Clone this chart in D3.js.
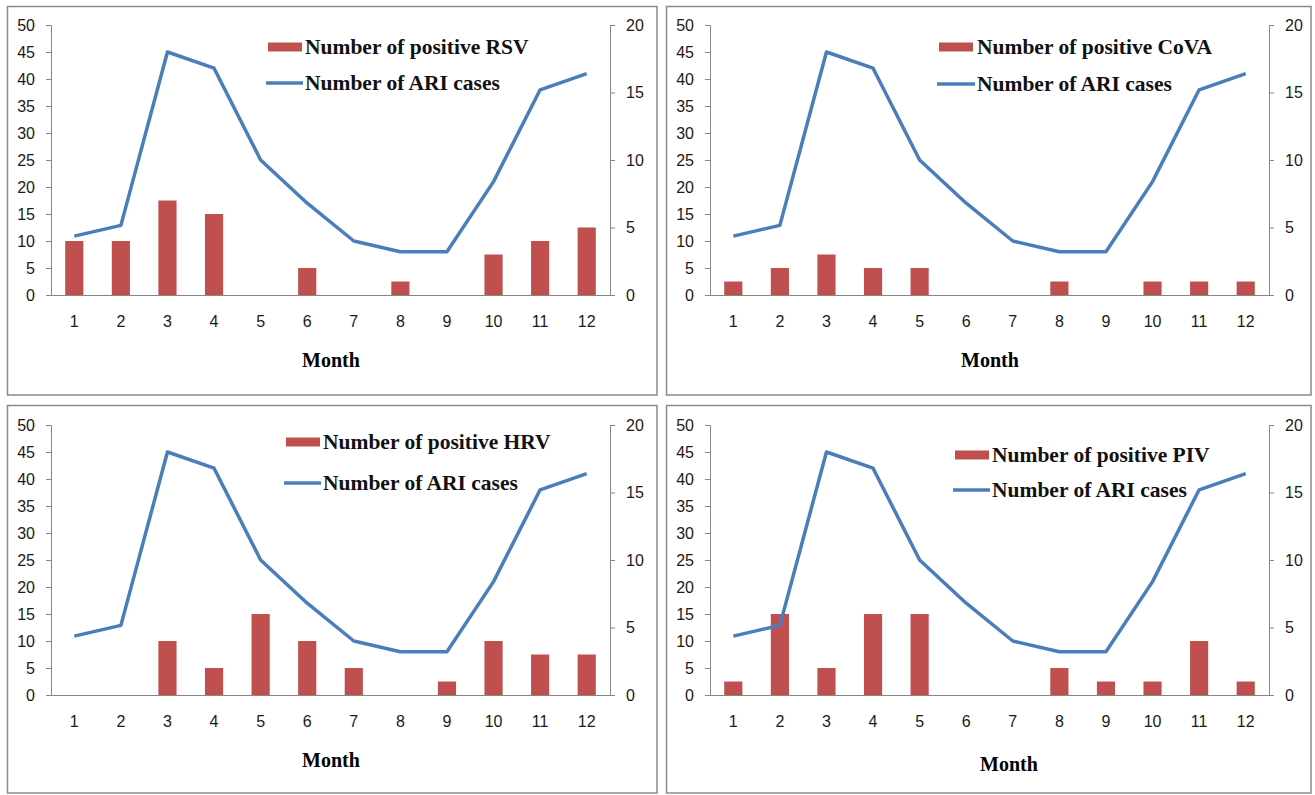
<!DOCTYPE html>
<html><head><meta charset="utf-8">
<script src="https://cdn.jsdelivr.net/npm/d3@7"></script>
<style>body{margin:0;background:#fff} svg{display:block}</style>
</head><body>
<svg id="chart" width="1315" height="795"></svg>
<script>
// ---- data ----
const months = ["1","2","3","4","5","6","7","8","9","10","11","12"];
const ariCases = [10.9, 12.9, 45, 42, 25, 17, 10, 8, 8, 21, 38, 41];
const rsvPositive  = [4, 4, 7, 6, 0, 2, 0, 1, 0, 3, 4, 5];
const covaPositive = [1, 2, 3, 2, 2, 0, 0, 1, 0, 1, 1, 1];
const hrvPositive  = [0, 0, 4, 2, 6, 4, 2, 0, 1, 4, 3, 3];
const pivPositive  = [1, 6, 2, 6, 6, 0, 0, 2, 1, 1, 4, 1];
const virusNames = ["RSV", "CoVA", "HRV", "PIV"];
const leftTicks = [0, 5, 10, 15, 20, 25, 30, 35, 40, 45, 50];
const rightTicks = [0, 5, 10, 15, 20];
const xTitle = "Month";
const lineLabel = "Number of ARI cases";

const seriesByPanel = [rsvPositive, covaPositive, hrvPositive, pivPositive];

// ---- layout ----
const panels = [
  {box:[7.5,6.5,657,395], plot:[51,610,25,295], leg:{rx:268, tx:305, y1:47, y2:83}, title:[331,360]},
  {box:[666.5,6.5,1311,395], plot:[710,1269,25,295], leg:{rx:939, tx:977, y1:47, y2:84}, title:[990,360]},
  {box:[7.5,405.5,657,793], plot:[51,610,425,695], leg:{rx:286, tx:323, y1:442, y2:483}, title:[331,760]},
  {box:[666.5,405.5,1311,793], plot:[710,1269,425,695], leg:{rx:955, tx:992, y1:455, y2:490}, title:[1009,764]}
];

const BAR = "#C0504D", LINE = "#4A7EBB", AXIS = "#868686";
const svg = d3.select("#chart");

panels.forEach((p, i) => {
  const g = svg.append("g");
  const [x0, x1, yTop, yBot] = p.plot;
  // panel border
  g.append("rect")
    .attr("x", p.box[0]).attr("y", p.box[1])
    .attr("width", p.box[2] - p.box[0]).attr("height", p.box[3] - p.box[1])
    .attr("fill", "none").attr("stroke", "#8a8a8a").attr("stroke-width", 1.5);

  const x = d3.scaleBand().domain(months).range([x0, x1])
    .paddingInner(0.61).paddingOuter(0.305);
  const yL = d3.scaleLinear().domain([0, 50]).range([yBot, yTop]);
  const yR = d3.scaleLinear().domain([0, 20]).range([yBot, yTop]);

  // bars (right axis)
  const vals = seriesByPanel[i];
  g.selectAll("rect.bar").data(months).enter().append("rect")
    .attr("class", "bar")
    .attr("x", d => x(d))
    .attr("width", x.bandwidth())
    .attr("y", (d, k) => yR(vals[k]))
    .attr("height", (d, k) => yBot - yR(vals[k]))
    .attr("fill", BAR);

  // axes
  const styleAxis = sel => {
    sel.selectAll("path,line").attr("stroke", AXIS);
    sel.selectAll("text").attr("fill", "#1a1a1a")
      .style("font-family", "'Liberation Sans', Arial, sans-serif").style("font-size", "16px");
  };
  g.append("g").attr("transform", `translate(${x0},0)`)
    .call(d3.axisLeft(yL).tickValues(leftTicks).tickSize(5).tickSizeOuter(5).tickPadding(11))
    .call(styleAxis);
  g.append("g").attr("transform", `translate(${x1},0)`)
    .call(d3.axisRight(yR).tickValues(rightTicks).tickSize(5).tickSizeOuter(5).tickPadding(11))
    .call(styleAxis);
  g.append("g").attr("transform", `translate(0,${yBot})`)
    .call(d3.axisBottom(x).tickSize(0).tickPadding(21))
    .call(styleAxis);

  // ARI line (left axis)
  const line = d3.line()
    .x((d, k) => x(months[k]) + x.bandwidth() / 2)
    .y(d => yL(d));
  g.append("path").datum(ariCases)
    .attr("d", line).attr("fill", "none")
    .attr("stroke", LINE).attr("stroke-width", 3.5)
    .attr("stroke-linejoin", "round");

  // x title
  g.append("text").attr("x", p.title[0]).attr("y", p.title[1] + 7)
    .attr("text-anchor", "middle")
    .style("font-family", "'Liberation Serif', 'Times New Roman', serif")
    .style("font-weight", "bold").style("font-size", "20px")
    .text(xTitle);

  // legend
  const lg = p.leg;
  g.append("rect").attr("x", lg.rx).attr("y", lg.y1 - 4.5)
    .attr("width", 34).attr("height", 9).attr("fill", BAR);
  g.append("line").attr("x1", lg.rx - 2).attr("x2", lg.tx - 2)
    .attr("y1", lg.y2).attr("y2", lg.y2)
    .attr("stroke", LINE).attr("stroke-width", 3.5);
  const legText = (y, t) => g.append("text").attr("x", lg.tx).attr("y", y + 7)
    .style("font-family", "'Liberation Serif', 'Times New Roman', serif")
    .style("font-weight", "bold").style("font-size", "21.5px")
    .attr("fill", "#111").text(t);
  legText(lg.y1, "Number of positive " + virusNames[i]);
  legText(lg.y2, lineLabel);
});
</script>
</body></html>
